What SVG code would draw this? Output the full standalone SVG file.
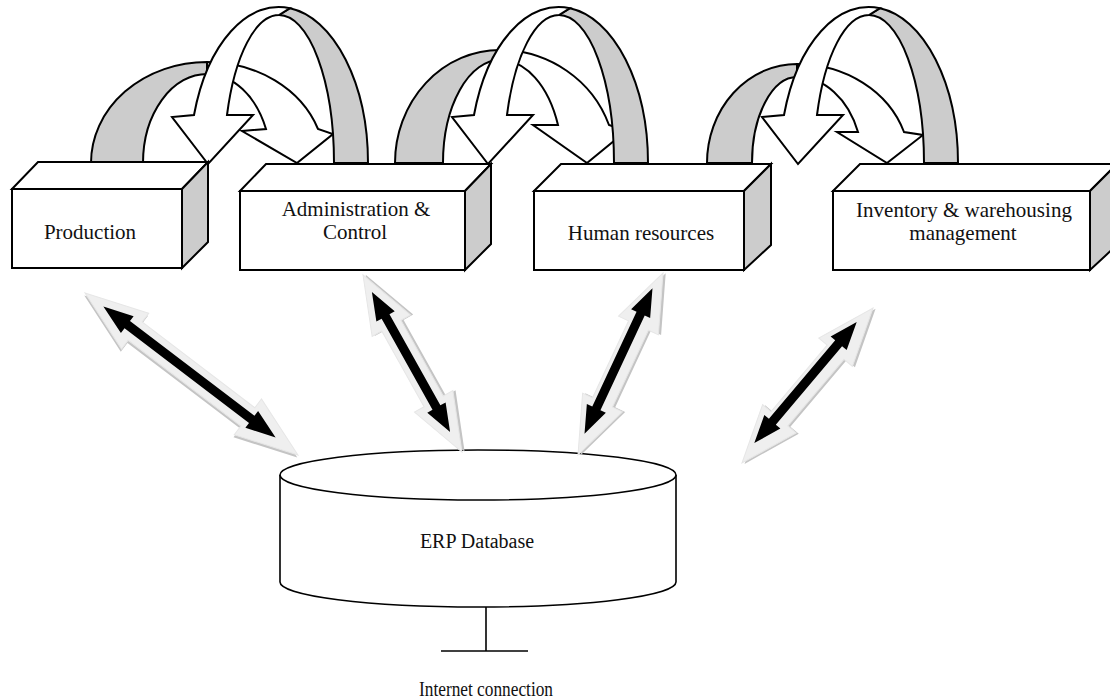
<svg xmlns="http://www.w3.org/2000/svg" xmlns:xlink="http://www.w3.org/1999/xlink" width="1110" height="698" viewBox="0 0 1110 698">
<style>
.ln{stroke:#000;stroke-width:2;stroke-linejoin:miter}
.w{fill:#fff}
.g{fill:#cccccc}
.t{font-family:"Liberation Serif","Times New Roman",serif;font-size:21px;fill:#111;text-anchor:middle}
.lt{fill:#efefef;stroke:#e6e6e6;stroke-width:1}
.sh{fill:#c4c4c4}
.bk{fill:#000}
</style>
<defs>
<g id="bigArrow">
<path class="g ln" d="M368,163 A89,156 0 0 0 290,8.2 L279,15 A55,148 0 0 1 334,163 Z"/>
<path class="w ln" d="M290,8.2 A89,156 0 0 0 194,115 L172,117 L208,164 L253,115 L227,115 A55,148 0 0 1 279,15 Z"/>
</g>
</defs>
<rect width="1110" height="698" fill="#fff"/>
<g id="connectors">
<g id="arrow-prod-admin">
<path class="g ln" d="M91,163 A116,101 0 0 1 207,62 L207,74 A64,89 0 0 0 143,163 Z"/>
<path class="w ln" d="M207,62 A118,101 0 0 1 318,129 L333,134 L297,163 L242,131 L266,129 A64,89 0 0 0 207,74 Z"/>
</g>
<use id="arrow-admin-prod" xlink:href="#bigArrow"/>
<g id="arrow-admin-hr">
<path class="g ln" d="M395,163 A105,113 0 0 1 500,50 L500,60 A57,103 0 0 0 443,163 Z"/>
<path class="w ln" d="M500,50 A116,113 0 0 1 609,125 L626,131 L587,163 L533,125 L558,125 A62,103 0 0 0 500,60 Z"/>
</g>
<use id="arrow-hr-admin" xlink:href="#bigArrow" transform="translate(280,0)"/>
<g id="arrow-hr-inv">
<path class="g ln" d="M707,163 A90,99 0 0 1 797,64 L797,77 A45,86 0 0 0 752,163 Z"/>
<path class="w ln" d="M797,64 A113,99 0 0 1 904,132 L923,135 L887,163 L837,132 L858,132 A65,86 0 0 0 797,77 Z"/>
</g>
<use id="arrow-inv-hr" xlink:href="#bigArrow" transform="translate(590,0)"/>
</g>
<g id="node-production">
<rect class="w ln" x="12" y="189" width="170" height="79"/>
<path class="w ln" d="M12,189 L38,162 L208,162 L182,189 Z"/>
<path class="g ln" d="M182,189 L208,162 L208,242 L182,268 Z"/>
<text class="t" x="90" y="239">Production</text>
</g>
<g id="node-admin">
<rect class="w ln" x="240" y="191" width="225" height="79"/>
<path class="w ln" d="M240,191 L266,164 L491,164 L465,191 Z"/>
<path class="g ln" d="M465,191 L491,164 L491,244 L465,270 Z"/>
<text class="t" x="356" y="216">Administration &amp;</text>
<text class="t" x="355" y="239">Control</text>
</g>
<g id="node-hr">
<rect class="w ln" x="534" y="191" width="210" height="79"/>
<path class="w ln" d="M534,191 L561,164 L771,164 L744,191 Z"/>
<path class="g ln" d="M744,191 L771,164 L771,245 L744,270 Z"/>
<text class="t" x="641" y="240">Human resources</text>
</g>
<g id="node-inventory">
<rect class="w ln" x="833" y="191" width="257" height="79"/>
<path class="w ln" d="M833,191 L860,164 L1117,164 L1090,191 Z"/>
<path class="g ln" d="M1090,191 L1117,164 L1117,245 L1090,270 Z"/>
<text class="t" x="964" y="217">Inventory &amp; warehousing</text>
<text class="t" x="963" y="240">management</text>
</g>
<g id="node-erp">
<path fill="#fff" stroke="#000" stroke-width="1.6" d="M280,475 L280,582 A198,25 0 0 0 676,582 L676,475"/>
<ellipse cx="478" cy="475" rx="198" ry="25" fill="#fff" stroke="#000" stroke-width="1.6"/>
<text class="t" x="477" y="548" style="font-size:20px">ERP Database</text>
<line x1="486" y1="607" x2="486" y2="651" stroke="#000" stroke-width="1.6"/>
<line x1="441" y1="651" x2="528" y2="651" stroke="#000" stroke-width="1.6"/>
<text class="t" x="486" y="696" style="font-size:20px" textLength="134" lengthAdjust="spacingAndGlyphs">Internet connection</text>
</g>
<g id="db-connectors">
<g transform="translate(191.5,374) rotate(37.26)">
<path class="sh" transform="translate(1,2.5)" d="M-133.8,0 L-70.8,-22.5 L-70.8,-11.5 L70.8,-11.5 L70.8,-22.5 L133.8,0 L70.8,22.5 L70.8,11.5 L-70.8,11.5 L-70.8,22.5 Z"/>
<path class="lt" d="M-133.8,0 L-70.8,-22.5 L-70.8,-11.5 L70.8,-11.5 L70.8,-22.5 L133.8,0 L70.8,22.5 L70.8,11.5 L-70.8,11.5 L-70.8,22.5 Z"/>
</g>
<g transform="translate(189.5,372) rotate(37.26)">
<path class="bk" d="M-108.2,0 L-78.2,-10.5 L-78.2,-4.5 L78.2,-4.5 L78.2,-10.5 L108.2,0 L78.2,10.5 L78.2,4.5 L-78.2,4.5 L-78.2,10.5 Z"/>
</g>
<g transform="translate(412.5,363.5) rotate(60.8)">
<path class="sh" transform="translate(1,-2.5)" d="M-101.4,0 L-43.4,-22 L-43.4,-11 L43.4,-11 L43.4,-22 L101.4,0 L43.4,22 L43.4,11 L-43.4,11 L-43.4,22 Z"/>
<path class="lt" d="M-101.4,0 L-43.4,-22 L-43.4,-11 L43.4,-11 L43.4,-22 L101.4,0 L43.4,22 L43.4,11 L-43.4,11 L-43.4,22 Z"/>
</g>
<g transform="translate(411,362) rotate(60.8)">
<path class="bk" d="M-80.15,0 L-52.15,-10.5 L-52.15,-4.5 L52.15,-4.5 L52.15,-10.5 L80.15,0 L52.15,10.5 L52.15,4.5 L-52.15,4.5 L-52.15,10.5 Z"/>
</g>
<g transform="translate(620.5,364) rotate(-64.96)">
<path class="sh" transform="translate(1,2.5)" d="M-100.45,0 L-42.45,-22 L-42.45,-11 L42.45,-11 L42.45,-22 L100.45,0 L42.45,22 L42.45,11 L-42.45,11 L-42.45,22 Z"/>
<path class="lt" d="M-100.45,0 L-42.45,-22 L-42.45,-11 L42.45,-11 L42.45,-22 L100.45,0 L42.45,22 L42.45,11 L-42.45,11 L-42.45,22 Z"/>
</g>
<g transform="translate(618.5,361) rotate(-64.96)">
<path class="bk" d="M-80.3,0 L-52.3,-10.5 L-52.3,-4.5 L52.3,-4.5 L52.3,-10.5 L80.3,0 L52.3,10.5 L52.3,4.5 L-52.3,4.5 L-52.3,10.5 Z"/>
</g>
<g transform="translate(807.5,385.5) rotate(-49.8)">
<path class="sh" transform="translate(1,2.5)" d="M-101.5,0 L-43.5,-22 L-43.5,-11 L43.5,-11 L43.5,-22 L101.5,0 L43.5,22 L43.5,11 L-43.5,11 L-43.5,22 Z"/>
<path class="lt" d="M-101.5,0 L-43.5,-22 L-43.5,-11 L43.5,-11 L43.5,-22 L101.5,0 L43.5,22 L43.5,11 L-43.5,11 L-43.5,22 Z"/>
</g>
<g transform="translate(805.5,382.5) rotate(-49.8)">
<path class="bk" d="M-79.35,0 L-51.35,-10.5 L-51.35,-4.5 L51.35,-4.5 L51.35,-10.5 L79.35,0 L51.35,10.5 L51.35,4.5 L-51.35,4.5 L-51.35,10.5 Z"/>
</g>
</g>
</svg>
